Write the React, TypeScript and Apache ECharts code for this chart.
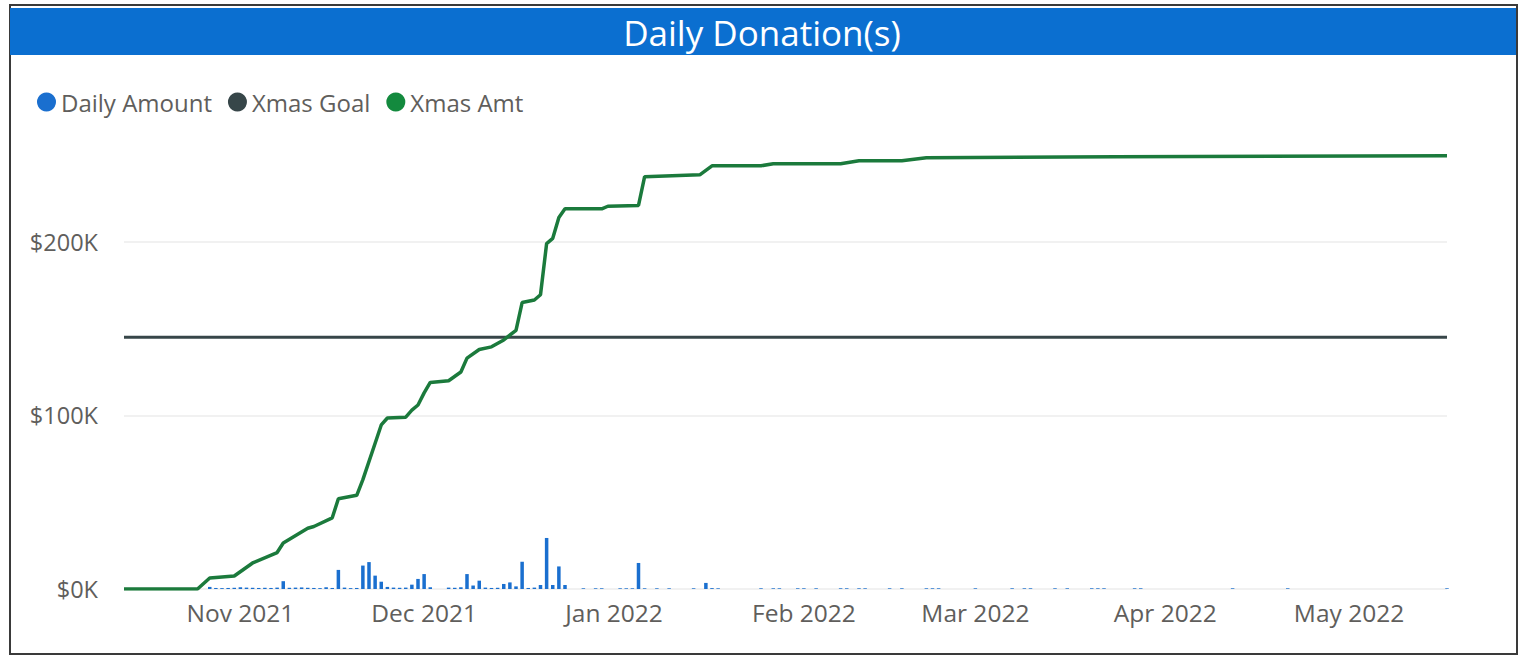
import React, { useEffect, useRef } from "react";
import * as echarts from "echarts";

// ---- Data ----
const cumDates = [
  "2021-10-13", "2021-10-25", "2021-10-27", "2021-10-31", "2021-11-03", "2021-11-07",
  "2021-11-08", "2021-11-12", "2021-11-13", "2021-11-16", "2021-11-17", "2021-11-20",
  "2021-11-21", "2021-11-23", "2021-11-24", "2021-11-25", "2021-11-28", "2021-11-29",
  "2021-11-30", "2021-12-01", "2021-12-02", "2021-12-05", "2021-12-07", "2021-12-08",
  "2021-12-10", "2021-12-12", "2021-12-14", "2021-12-16", "2021-12-17", "2021-12-19",
  "2021-12-20", "2021-12-21", "2021-12-22", "2021-12-23", "2021-12-24", "2021-12-30",
  "2021-12-31", "2022-01-05", "2022-01-06", "2022-01-15", "2022-01-17", "2022-01-25",
  "2022-01-27", "2022-02-07", "2022-02-10", "2022-02-17", "2022-02-21", "2022-03-24",
  "2022-05-17",
];
const cumValues = [
  0, 0, 6300, 7500, 15000, 21000,
  26500, 35000, 36000, 41000, 52000, 54000,
  63000, 84000, 94500, 98500, 99000, 103000,
  106000, 113000, 119000, 120000, 125000, 133000,
  138000, 139500, 143500, 149000, 165000, 166500,
  169500, 199000, 202000, 214000, 219000, 219000,
  220500, 221000, 237500, 238600, 243800, 243800,
  245000, 245000, 246700, 246700, 248400, 249000,
  249600,
];

const dailyDates = [
  "2021-10-27", "2021-10-28", "2021-10-29", "2021-10-30", "2021-10-31", "2021-11-01",
  "2021-11-02", "2021-11-03", "2021-11-04", "2021-11-05", "2021-11-06", "2021-11-07",
  "2021-11-08", "2021-11-09", "2021-11-10", "2021-11-11", "2021-11-12", "2021-11-13",
  "2021-11-14", "2021-11-15", "2021-11-16", "2021-11-17", "2021-11-18", "2021-11-19",
  "2021-11-20", "2021-11-21", "2021-11-22", "2021-11-23", "2021-11-24", "2021-11-25",
  "2021-11-26", "2021-11-27", "2021-11-28", "2021-11-29", "2021-11-30", "2021-12-01",
  "2021-12-02", "2021-12-05", "2021-12-06", "2021-12-07", "2021-12-08", "2021-12-09",
  "2021-12-10", "2021-12-11", "2021-12-12", "2021-12-13", "2021-12-14", "2021-12-15",
  "2021-12-16", "2021-12-17", "2021-12-18", "2021-12-19", "2021-12-20", "2021-12-21",
  "2021-12-22", "2021-12-23", "2021-12-24", "2021-12-27", "2021-12-29", "2021-12-30",
  "2022-01-02", "2022-01-03", "2022-01-04", "2022-01-05", "2022-01-06", "2022-01-08",
  "2022-01-10", "2022-01-14", "2022-01-16", "2022-01-17", "2022-01-18", "2022-01-25",
  "2022-01-27", "2022-01-28", "2022-01-31", "2022-02-01", "2022-02-03", "2022-02-07",
  "2022-02-08", "2022-02-10", "2022-02-11", "2022-02-15", "2022-02-17", "2022-02-21",
  "2022-02-22", "2022-02-23", "2022-03-01", "2022-03-07", "2022-03-09", "2022-03-10",
  "2022-03-14", "2022-03-16", "2022-03-20", "2022-03-21", "2022-03-22", "2022-03-27",
  "2022-03-28", "2022-04-12", "2022-04-21", "2022-05-17",
];
const dailyValues = [
  1200, 600, 500, 600, 700, 1000,
  800, 700, 600, 700, 600, 800,
  4500, 700, 800, 900, 700, 600,
  500, 1000, 600, 11000, 800, 500,
  600, 13500, 15500, 7700, 4200, 1200,
  800, 700, 800, 2500, 5800, 8600,
  1000, 800, 700, 1000, 8600, 2000,
  4800, 800, 600, 700, 2900, 3800,
  1500, 15700, 600, 800, 2300, 29400,
  2300, 13000, 2300, 400, 400, 400,
  400, 400, 400, 15000, 400, 400,
  400, 400, 3500, 500, 400, 400,
  400, 400, 400, 400, 400, 400,
  400, 400, 400, 400, 400, 400,
  400, 400, 400, 400, 400, 400,
  400, 400, 400, 400, 400, 400,
  400, 400, 400, 400,
];

const goalValue = 145000;
const axisStart = "2021-10-13";
const axisEnd = "2022-05-17";
const monthTicks = [
  "2021-11-01", "2021-12-01", "2022-01-01", "2022-02-01",
  "2022-03-01", "2022-04-01", "2022-05-01",
];
const monthNames = ["Jan", "Feb", "Mar", "Apr", "May", "Jun", "Jul", "Aug", "Sep", "Oct", "Nov", "Dec"];
const seriesNames = ["Daily Amount", "Xmas Goal", "Xmas Amt"];

function ts(s: string): number {
  const [y, m, d] = s.split("-").map(Number);
  return new Date(y, m - 1, d).getTime();
}

const FONT = "'Open Sans', 'Noto Sans', sans-serif";

export default function App() {
  const ref = useRef<HTMLDivElement>(null);

  useEffect(() => {
    if (!ref.current) return;
    const chart = echarts.init(ref.current, undefined, { renderer: "svg" });

    const option: any = {
      animation: false,
      backgroundColor: "#ffffff",
      title: {
        text: "Daily Donation(s)",
        left: "center",
        top: 10,
        textStyle: { color: "#ffffff", fontSize: 35, fontWeight: "normal", fontFamily: FONT },
      },
      graphic: [
        {
          type: "rect",
          z: -1,
          shape: { x: 10, y: 8, width: 1506, height: 47 },
          style: { fill: "#0b6fd0" },
        },
        {
          type: "rect",
          z: -2,
          shape: { x: 10, y: 5, width: 1507, height: 649 },
          style: { fill: "none", stroke: "#3a3a3a", lineWidth: 2 },
        },
      ],
      legend: {
        data: seriesNames,
        left: 32,
        top: 85,
        icon: "circle",
        itemWidth: 19,
        itemHeight: 19,
        itemGap: 16,
        textStyle: { color: "#605e5c", fontSize: 24, fontFamily: FONT },
      },
      grid: { left: 124, right: 77, top: 129, bottom: 68, containLabel: false },
      xAxis: {
        type: "value",
        min: ts(axisStart),
        max: ts(axisEnd),
        axisLine: { show: false },
        axisTick: { show: false },
        splitLine: { show: false },
        axisLabel: {
          customValues: monthTicks.map(ts),
          margin: 11,
          color: "#605e5c",
          fontSize: 24.5,
          fontFamily: FONT,
          formatter: (v: number) => {
            const d = new Date(v);
            return `${monthNames[d.getMonth()]} ${d.getFullYear()}`;
          },
        },
      },
      yAxis: {
        type: "value",
        min: 0,
        max: 265000,
        interval: 100000,
        axisLine: { show: false },
        axisTick: { show: false },
        splitLine: { show: true, showMaxLine: false, lineStyle: { color: "#ececec", width: 1.5 } },
        axisLabel: {
          showMaxLabel: false,
          margin: 26,
          color: "#605e5c",
          fontSize: 23.5,
          fontFamily: FONT,
          formatter: (v: number) => (v % 100000 === 0 ? `$${v / 1000}K` : ""),
        },
      },
      series: [
        {
          name: seriesNames[0],
          type: "bar",
          barWidth: 3.5,
          itemStyle: { color: "#1a6fcf" },
          data: dailyDates.map((d, i) => [ts(d), dailyValues[i]]),
        },
        {
          name: seriesNames[1],
          type: "line",
          symbol: "none",
          lineStyle: { color: "#374649", width: 3 },
          itemStyle: { color: "#374649" },
          data: [
            [ts(axisStart), goalValue],
            [ts(axisEnd), goalValue],
          ],
        },
        {
          name: seriesNames[2],
          type: "line",
          symbol: "none",
          lineStyle: { color: "#1b7a3c", width: 3.5 },
          itemStyle: { color: "#138a3e" },
          data: cumDates.map((d, i) => [ts(d), cumValues[i]]),
        },
      ],
    };

    chart.setOption(option);
    return () => chart.dispose();
  }, []);

  return (
    <div
      ref={ref}
      style={{ position: "fixed", left: 0, top: 0, width: 1524, height: 657 }}
    />
  );
}
